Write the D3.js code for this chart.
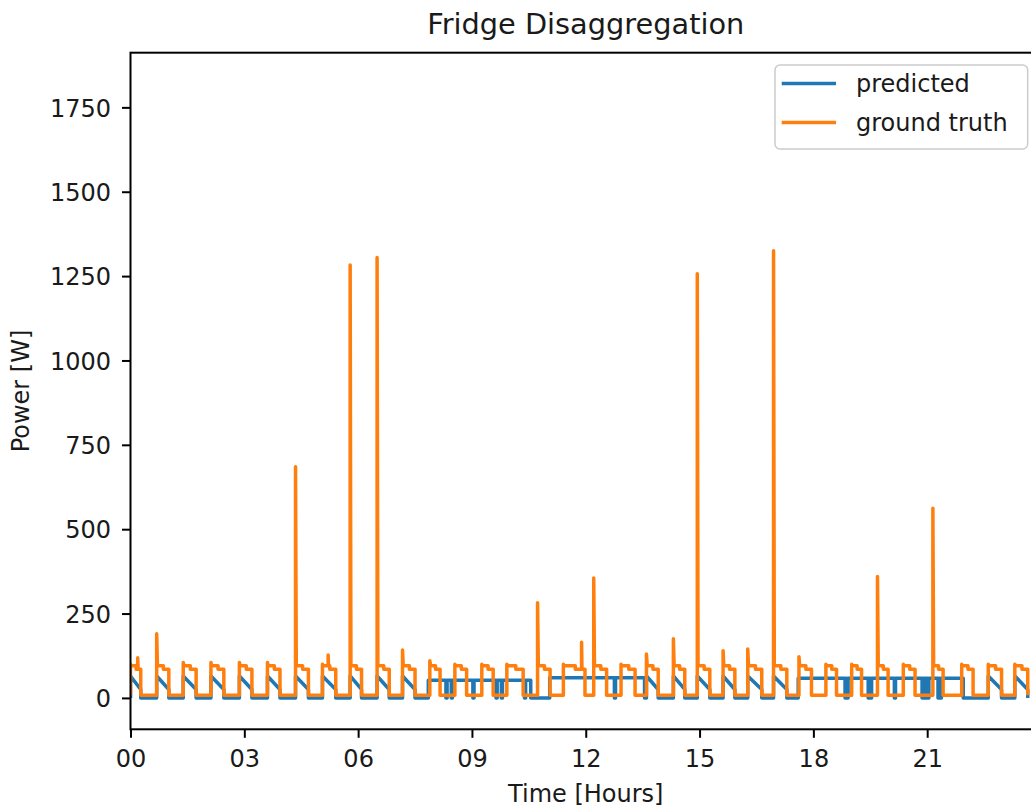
<!DOCTYPE html>
<html>
<head>
<meta charset="utf-8">
<script src="https://cdnjs.cloudflare.com/ajax/libs/d3/7.8.5/d3.min.js"></script>
<style>
  body { margin: 0; background: #fff; }
  svg text { font-family: "DejaVu Sans", sans-serif; fill: #1a1a1a; }
</style>
</head>
<body>
<svg class="chart"></svg>
<script>
// ground truth fridge cycles: switch-on hour, switch-off hour, start-up spike (W)
var cycleOn   = [0.00, 0.69, 1.39, 2.12, 2.87, 3.61, 4.35, 5.06, 5.79, 6.50, 7.17, 7.89, 8.55, 9.26, 9.92,
                 10.73, 11.41, 12.21, 12.93, 13.60, 14.31, 14.94, 15.62, 16.27, 16.95, 17.62, 18.33, 19.01,
                 19.69, 20.37, 21.15, 21.91, 22.61, 23.31];
var cycleOff  = [0.27, 1.01, 1.73, 2.46, 3.20, 3.94, 4.69, 5.41, 6.09, 6.82, 7.50, 8.16, 8.86, 9.56, 10.35,
                 11.06, 11.98, 12.55, 13.30, 13.91, 14.61, 15.27, 15.93, 16.64, 17.30, 17.95, 18.61, 19.27,
                 19.97, 20.68, 21.42, 22.21, 22.96, 23.65];
var cyclePeak = [100, 190, 105, 105, 105, 105, 685, 100, 1283, 1305, 142, 110, 100, 100, 100,
                 282, 100, 355, 100, 130, 175, 1257, 140, 145, 1325, 122, 100, 100,
                 360, 100, 562, 100, 100, 100];
// spikes that happen in the middle of a cycle: [hour, W]
var extraSpikes = [[0.19, 119], [5.21, 127], [11.89, 165]];
var truthLevels = [95, 85, 8];          // first half, second half, idle

// predicted: start / end of the decaying ramp in a cycle (W)
var predRamp = [65, 25];
// stretches where the prediction sits on a plateau: [from, to, W]
var predBands = [[7.85, 10.55, 52], [11.05, 13.55, 60], [17.6, 21.95, 58]];
// short drops to zero inside those plateaus (hours)
var predDips = [8.33, 8.47, 9.04, 9.65, 9.79, 10.40, 12.77, 18.85, 18.9, 19.46, 19.52, 20.15,
                20.88, 20.95, 21.03, 21.3, 21.36];

var yTicks = [0, 250, 500, 750, 1000, 1250, 1500, 1750];
var xTicks = [0, 3, 6, 9, 12, 15, 18, 21];
var xTickLabels = ["00", "03", "06", "09", "12", "15", "18", "21"];

function show() {
    'use strict';
    var W = 1031, H = 805;
    var left = 130.5, right = 1041, top = 52.7, bottom = 729.3;

    var svg = d3.select(".chart").attr("width", W).attr("height", H);

    var x = d3.scaleLinear().domain([0, 24]).range([left, right]);
    var y = d3.scaleLinear().domain([-93, 1912]).range([bottom, top]);

    svg.append("defs").append("clipPath").attr("id", "clip")
        .append("rect")
        .attr("x", left).attr("y", top)
        .attr("width", right - left).attr("height", bottom - top);

    // --- build series
    var truth = [];
    cycleOn.forEach(function(on, i) {
        var off = cycleOff[i], mid = on + (off - on) * 0.55;
        var seg = [[on, truthLevels[2]], [on, cyclePeak[i]], [on + 0.02, truthLevels[0]],
                   [mid, truthLevels[0]], [mid, truthLevels[1]], [off, truthLevels[1]], [off, truthLevels[2]]];
        extraSpikes.forEach(function(s) {
            if (s[0] > on && s[0] < off) {
                var lvl = s[0] < mid ? truthLevels[0] : truthLevels[1];
                seg.push([s[0], lvl], [s[0], s[1]], [s[0] + 0.01, lvl]);
            }
        });
        seg.sort(function(a, b) { return a[0] - b[0]; });
        truth = truth.concat(seg);
    });

    function inBand(h) {
        return predBands.some(function(b) { return h >= b[0] && h <= b[1]; });
    }
    var pieces = [];
    cycleOn.forEach(function(on, i) {
        if (inBand(on) || inBand(cycleOff[i])) return;
        pieces.push([[on, 0], [on, predRamp[0]], [cycleOff[i], predRamp[1]], [cycleOff[i], 0]]);
    });
    predBands.forEach(function(b) {
        var p = [[b[0], 0], [b[0], b[2]]];
        predDips.filter(function(d) { return d > b[0] && d < b[1]; }).forEach(function(d) {
            p.push([d - 0.015, b[2]], [d - 0.015, 0], [d + 0.015, 0], [d + 0.015, b[2]]);
        });
        p.push([b[1], b[2]], [b[1], 0]);
        pieces.push(p);
    });
    pieces.sort(function(a, b) { return a[0][0] - b[0][0]; });
    var pred = [].concat.apply([], pieces);

    var line = d3.line()
        .x(function(d) { return x(d[0]); })
        .y(function(d) { return y(d[1]); });

    var g = svg.append("g").attr("clip-path", "url(#clip)");
    g.append("path").datum(pred)
        .attr("d", line).attr("fill", "none")
        .attr("stroke", "#1f77b4").attr("stroke-width", 3.5).attr("stroke-linejoin", "round");
    g.append("path").datum(truth)
        .attr("d", line).attr("fill", "none")
        .attr("stroke", "#ff7f0e").attr("stroke-width", 3.5).attr("stroke-linejoin", "round");

    // --- axes
    var yAxis = svg.append("g")
        .attr("transform", "translate(" + left + ",0)")
        .call(d3.axisLeft(y).tickValues(yTicks).tickSize(8.5).tickPadding(11)
            .tickFormat(function(d) { return String(d); }));
    var xAxis = svg.append("g")
        .attr("transform", "translate(0," + bottom + ")")
        .call(d3.axisBottom(x).tickValues(xTicks).tickSize(8.5).tickPadding(12)
            .tickFormat(function(d, i) { return xTickLabels[i]; }));

    [xAxis, yAxis].forEach(function(a) {
        a.select(".domain").remove();
        a.selectAll("line").attr("stroke", "#000").attr("stroke-width", 2);
        a.selectAll("text").attr("font-size", 24).attr("font-family", null).attr("fill", null);
    });
    yAxis.selectAll("text").attr("dy", "0.36em");

    // spines
    svg.append("rect")
        .attr("x", left).attr("y", top)
        .attr("width", right - left).attr("height", bottom - top)
        .attr("fill", "none").attr("stroke", "#000").attr("stroke-width", 2);

    // --- texts
    svg.append("text").attr("x", (left + right) / 2).attr("y", 34)
        .attr("text-anchor", "middle").attr("font-size", 28.8)
        .text("Fridge Disaggregation");
    svg.append("text").attr("x", (left + right) / 2).attr("y", 801.5)
        .attr("text-anchor", "middle").attr("font-size", 24)
        .text("Time [Hours]");
    svg.append("text")
        .attr("transform", "translate(28.5," + (top + bottom) / 2 + ") rotate(-90)")
        .attr("text-anchor", "middle").attr("font-size", 24)
        .text("Power [W]");

    // --- legend
    var legend = svg.append("g").attr("transform", "translate(775,65)");
    legend.append("rect")
        .attr("width", 252.7).attr("height", 84).attr("rx", 5)
        .attr("fill", "#fff").attr("fill-opacity", 0.8)
        .attr("stroke", "#cccccc").attr("stroke-width", 1.5);
    var entries = [["predicted", "#1f77b4"], ["ground truth", "#ff7f0e"]];
    entries.forEach(function(e, i) {
        var yy = 18.5 + i * 39;
        legend.append("line")
            .attr("x1", 6.7).attr("x2", 61).attr("y1", yy).attr("y2", yy)
            .attr("stroke", e[1]).attr("stroke-width", 3.5);
        legend.append("text")
            .attr("x", 81).attr("y", yy).attr("dy", "0.36em")
            .attr("font-size", 24)
            .text(e[0]);
    });
}
show();
</script>
</body>
</html>
